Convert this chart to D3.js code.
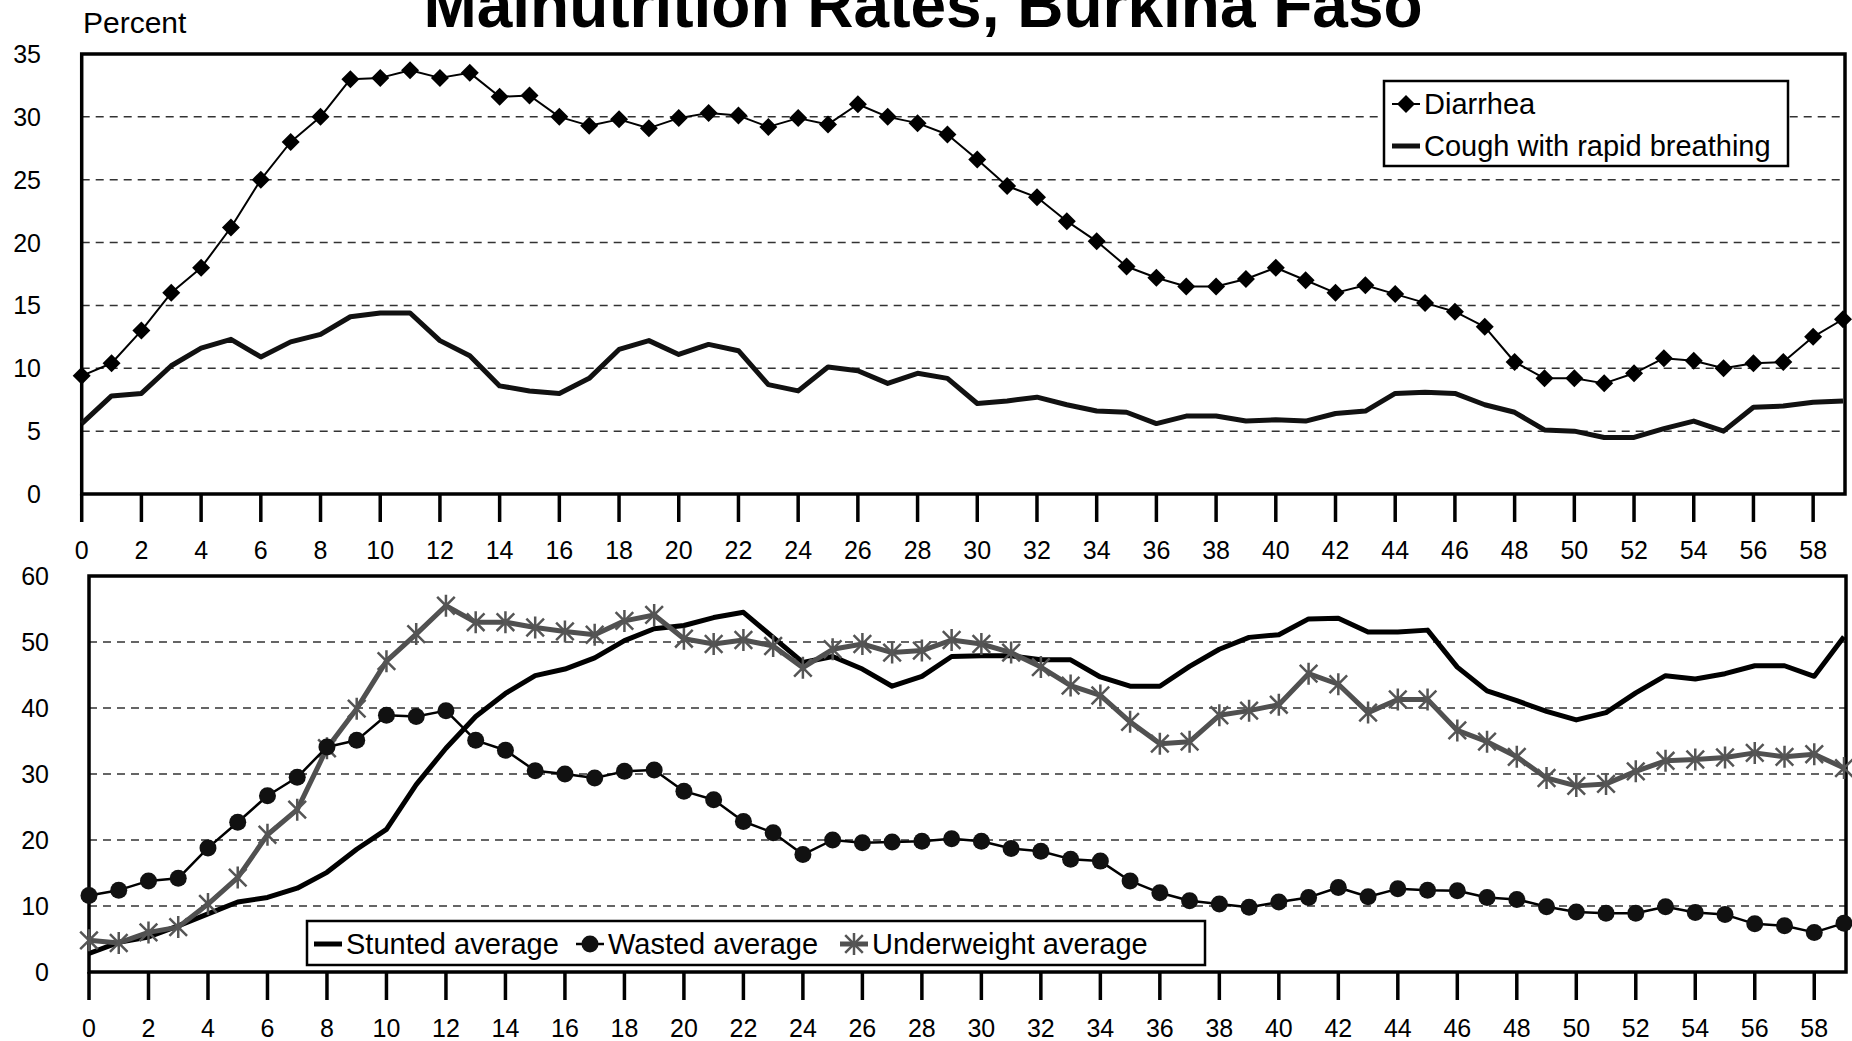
<!DOCTYPE html>
<html>
<head>
<meta charset="utf-8">
<title>Malnutrition Rates, Burkina Faso</title>
<script src="https://cdn.jsdelivr.net/npm/d3@7"></script>
<style>
body{margin:0;background:#fff;}
svg{display:block;}
text{font-family:"Liberation Sans", Arial, sans-serif;fill:#000;}
</style>
</head>
<body>
<div id="chart"></div>
<script>

// age in months
var ages = [0,1,2,3,4,5,6,7,8,9,10,11,12,13,14,15,16,17,18,19,
	20,21,22,23,24,25,26,27,28,29,30,31,32,33,34,35,36,37,38,39,
	40,41,42,43,44,45,46,47,48,49,50,51,52,53,54,55,56,57,58,59];
var ageTicks = [0,2,4,6,8,10,12,14,16,18,20,22,24,26,28,30,32,34,36,38,40,42,44,46,48,50,52,54,56,58];

var diarrhea = [9.4,10.4,13.0,16.0,18.0,21.2,25.0,28.0,30.0,33.0,33.1,33.7,33.1,33.5,31.6,31.7,30.0,29.3,29.8,29.1,
	29.9,30.3,30.1,29.2,29.9,29.4,31.0,30.0,29.5,28.6,26.6,24.5,23.6,21.7,20.1,18.1,17.2,16.5,16.5,17.1,
	18.0,17.0,16.0,16.6,15.9,15.2,14.5,13.3,10.5,9.2,9.2,8.8,9.6,10.8,10.6,10.0,10.4,10.5,12.5,13.9];
var cough = [5.6,7.8,8.0,10.2,11.6,12.3,10.9,12.1,12.7,14.1,14.4,14.4,12.2,11.0,8.6,8.2,8.0,9.2,11.5,12.2,
	11.1,11.9,11.4,8.7,8.2,10.1,9.8,8.8,9.6,9.2,7.2,7.4,7.7,7.1,6.6,6.5,5.6,6.2,6.2,5.8,
	5.9,5.8,6.4,6.6,8.0,8.1,8.0,7.1,6.5,5.1,5.0,4.5,4.5,5.2,5.8,5.0,6.9,7.0,7.3,7.4];

var stunted = [2.8,4.5,5.3,7.0,8.8,10.6,11.3,12.7,15.1,18.6,21.6,28.4,33.9,38.7,42.2,44.9,45.9,47.6,50.2,52.0,
	52.5,53.7,54.5,50.7,46.9,47.8,45.9,43.3,44.8,47.8,47.9,47.9,47.3,47.3,44.7,43.3,43.3,46.3,48.9,50.7,
	51.1,53.5,53.6,51.5,51.5,51.8,46.2,42.6,41.1,39.5,38.2,39.3,42.3,44.9,44.4,45.2,46.4,46.4,44.8,50.8];
var wasted = [11.6,12.4,13.8,14.2,18.8,22.7,26.7,29.5,34.1,35.1,38.9,38.7,39.6,35.1,33.6,30.5,30.0,29.4,30.4,30.6,
	27.4,26.1,22.8,21.1,17.8,20.0,19.6,19.7,19.8,20.2,19.8,18.7,18.3,17.1,16.8,13.8,12.0,10.8,10.3,9.8,
	10.6,11.3,12.8,11.4,12.6,12.4,12.3,11.3,11.0,9.9,9.1,8.9,8.9,9.9,9.0,8.7,7.3,7.0,6.0,7.4];
var underweight = [4.8,4.4,6.0,6.8,10.3,14.3,20.8,24.6,33.9,39.9,47.1,51.2,55.5,53.0,53.0,52.2,51.6,51.1,53.2,54.1,
	50.5,49.7,50.3,49.4,46.1,48.9,49.7,48.4,48.7,50.3,49.7,48.4,46.2,43.4,41.9,37.9,34.6,34.9,38.9,39.6,
	40.5,45.2,43.6,39.3,41.3,41.3,36.6,34.9,32.6,29.4,28.2,28.5,30.4,32.0,32.2,32.5,33.2,32.6,33.0,30.9];

var topTicks = [0,5,10,15,20,25,30,35];
var bottomTicks = [0,10,20,30,40,50,60];

var W = 1852, H = 1041;

var svg = d3.select('#chart').append('svg')
	.attr('width', W)
	.attr('height', H);

// the title sits partly above the top edge, as in the original
svg.append('text')
	.attr('x', 923).attr('y', 27)
	.attr('text-anchor', 'middle')
	.style('font-weight', 'bold')
	.style('font-size', '64px')
	.text('Malnutrition Rates, Burkina Faso');

svg.append('text')
	.attr('x', 83).attr('y', 33)
	.style('font-size', '30px')
	.text('Percent');

var panel1 = {left:81.7, right:1843, top:54, bottom:494, labelX:41, tickLabelY:550, ticks:topTicks};
var panel2 = {left:89, right:1844, top:576, bottom:972, labelX:49, tickLabelY:1028, ticks:bottomTicks};

function starPath(r){
	var a = r * 0.8;
	return 'M0,' + (-r) + 'L0,' + r +
		'M' + (-a) + ',' + (-a) + 'L' + a + ',' + a +
		'M' + (-a) + ',' + a + 'L' + a + ',' + (-a);
}

function setup(p){
	p.x = d3.scaleLinear().domain([0, 59]).range([p.left, p.right]);
	p.y = d3.scaleLinear().domain([0, d3.max(p.ticks)]).range([p.bottom, p.top]);
	var g = svg.append('g');

	// dashed gridlines
	g.selectAll('line.grid')
		.data(p.ticks.slice(1, -1)).enter()
		.append('line').attr('class', 'grid')
		.attr('x1', p.left).attr('x2', p.right + 2)
		.attr('y1', function(d){ return p.y(d); })
		.attr('y2', function(d){ return p.y(d); })
		.attr('stroke', '#333')
		.attr('stroke-width', 1.5)
		.attr('stroke-dasharray', '8,6');

	// y labels
	g.selectAll('text.ylab')
		.data(p.ticks).enter()
		.append('text').attr('class', 'ylab')
		.attr('x', p.labelX)
		.attr('y', function(d){ return p.y(d); })
		.attr('dy', '0.36em')
		.attr('text-anchor', 'end')
		.style('font-size', '25px')
		.text(function(d){ return d; });

	// x ticks and labels
	g.selectAll('line.xtick')
		.data(ageTicks).enter()
		.append('line').attr('class', 'xtick')
		.attr('x1', function(d){ return p.x(d); })
		.attr('x2', function(d){ return p.x(d); })
		.attr('y1', p.bottom)
		.attr('y2', p.bottom + 28)
		.attr('stroke', '#000')
		.attr('stroke-width', 3.5);

	g.selectAll('text.xlab')
		.data(ageTicks).enter()
		.append('text').attr('class', 'xlab')
		.attr('x', function(d){ return p.x(d); })
		.attr('y', p.tickLabelY)
		.attr('dy', '0.36em')
		.attr('text-anchor', 'middle')
		.style('font-size', '25px')
		.text(function(d){ return d; });

	// frame
	g.append('rect')
		.attr('x', p.left).attr('y', p.top)
		.attr('width', p.right + 2 - p.left)
		.attr('height', p.bottom - p.top)
		.attr('fill', 'none')
		.attr('stroke', '#000')
		.attr('stroke-width', 3.5);
	p.g = g;
	return p;
}

function drawLine(p, values, color, width){
	var line = d3.line()
		.x(function(d, i){ return p.x(ages[i]); })
		.y(function(d){ return p.y(d); });
	p.g.append('path')
		.datum(values)
		.attr('d', line)
		.attr('fill', 'none')
		.attr('stroke', color)
		.attr('stroke-width', width)
		.attr('stroke-linejoin', 'round');
}

function drawMarkers(p, values, kind){
	var m = p.g.selectAll('g.m-' + kind)
		.data(values).enter()
		.append('g').attr('class', 'm-' + kind)
		.attr('transform', function(d, i){ return 'translate(' + p.x(ages[i]) + ',' + p.y(d) + ')'; });
	marker(m, kind);
}

function marker(sel, kind){
	if(kind == 'diamond'){
		sel.append('path').attr('d', 'M0,-9L9,0L0,9L-9,0Z').attr('fill', '#000');
	} else if(kind == 'circle'){
		sel.append('circle').attr('r', 8.5).attr('fill', '#111');
	} else if(kind == 'star'){
		sel.append('path').attr('d', starPath(11))
			.attr('stroke', '#555').attr('stroke-width', 2.5).attr('fill', 'none');
	}
}

setup(panel1);
setup(panel2);

drawLine(panel1, cough, '#111', 5);
drawLine(panel1, diarrhea, '#000', 2);
drawMarkers(panel1, diarrhea, 'diamond');

drawLine(panel2, stunted, '#000', 5);
drawLine(panel2, underweight, '#505050', 5);
drawMarkers(panel2, underweight, 'star');
drawLine(panel2, wasted, '#000', 2.5);
drawMarkers(panel2, wasted, 'circle');

// legends
function legendItem(g, x, y, label, kind, color, width){
	g.append('line')
		.attr('x1', x).attr('x2', x + 28)
		.attr('y1', y).attr('y2', y)
		.attr('stroke', color).attr('stroke-width', width);
	if(kind){
		marker(g.append('g').attr('transform', 'translate(' + (x + 14) + ',' + y + ')'), kind);
	}
	g.append('text')
		.attr('x', x + 32).attr('y', y)
		.attr('dy', '0.36em')
		.style('font-size', '29px')
		.text(label);
}

var leg1 = svg.append('g');
leg1.append('rect')
	.attr('x', 1384).attr('y', 81).attr('width', 404).attr('height', 85)
	.attr('fill', '#fff').attr('stroke', '#000').attr('stroke-width', 2.5);
legendItem(leg1, 1392, 104, 'Diarrhea', 'diamond', '#000', 2);
legendItem(leg1, 1392, 146, 'Cough with rapid breathing', null, '#111', 5);

var leg2 = svg.append('g');
leg2.append('rect')
	.attr('x', 307).attr('y', 921).attr('width', 898).attr('height', 44)
	.attr('fill', '#fff').attr('stroke', '#000').attr('stroke-width', 2.5);
legendItem(leg2, 314, 944, 'Stunted average', null, '#000', 5);
legendItem(leg2, 576, 944, 'Wasted average', 'circle', '#000', 2.5);
legendItem(leg2, 840, 944, 'Underweight average', 'star', '#505050', 5);

</script>
</body>
</html>
